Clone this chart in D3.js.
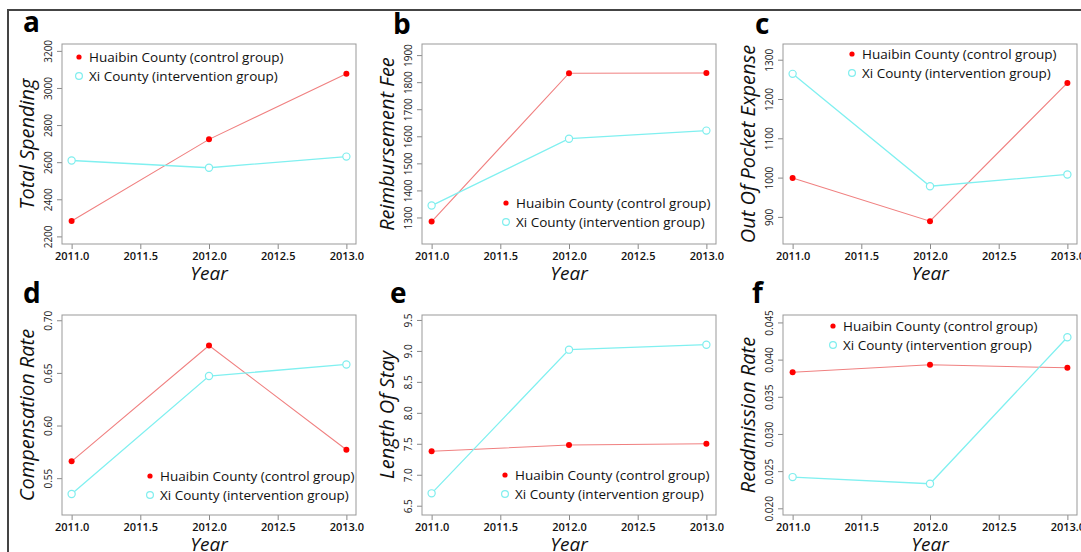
<!DOCTYPE html>
<html>
<head>
<meta charset="utf-8">
<script src="https://cdn.jsdelivr.net/npm/d3@7"></script>
<style>
  body { margin: 0; background: #fff; }
  svg { display: block; font-family: "Open Sans", sans-serif; }
</style>
</head>
<body>
<svg id="fig" width="1081" height="552"></svg>
<script>
// data
const years = [2011, 2012, 2013];
const seriesNames = ["Huaibin County (control group)", "Xi County (intervention group)"];
const panelLetters = ["a", "b", "c", "d", "e", "f"];
const panelTitles = ["Total Spending", "Reimbursement Fee", "Out Of Pocket Expense",
  "Compensation Rate", "Length Of Stay", "Readmission Rate"];

const huaibin = [
  [2283, 2723, 3076],
  [1285, 1833, 1834],
  [999, 889, 1241],
  [0.566, 0.676, 0.577],
  [7.38, 7.48, 7.50],
  [0.0383, 0.0393, 0.0389]
];
const xiCounty = [
  [2609, 2570, 2630],
  [1344, 1591, 1621],
  [1264, 978, 1008],
  [0.535, 0.647, 0.658],
  [6.70, 9.02, 9.10],
  [0.0242, 0.0233, 0.0430]
];

const yDomains = [
  [2159, 3237], [1202, 1941], [831, 1340],
  [0.515, 0.705], [6.35, 9.58], [0.0191, 0.0460]
];
const yTicks = [
  [2200, 2400, 2600, 2800, 3000, 3200],
  [1300, 1400, 1500, 1600, 1700, 1800, 1900],
  [900, 1000, 1100, 1200, 1300],
  [0.55, 0.60, 0.65, 0.70],
  [6.5, 7.0, 7.5, 8.0, 8.5, 9.0, 9.5],
  [0.020, 0.025, 0.030, 0.035, 0.040, 0.045]
];
const yFormats = ["d", "d", "d", ".2f", ".1f", ".3f"];
const xTicks = [2011, 2011.5, 2012, 2012.5, 2013];

// layout
const boxW = 294, boxH = 200;
const colX = [62, 422, 783];
const rowY = [44, 315];
const legendPos = [[17, 13], [84, 159], [69, 10], [88, 161], [83, 160], [50, 11]];
const letterPos = [[23, 32], [393, 34], [755, 34], [23, 303], [390, 303], [752, 303]];

const red = "#ff0000", redLine = "#f08080";
const cyan = "#7feeee", cyanLine = "#80f0f0";

const svg = d3.select("#fig");

// outer frame
svg.append("path")
  .attr("d", "M8,552V10H1081")
  .attr("fill", "none")
  .attr("stroke", "#444")
  .attr("stroke-width", 2);

for (let i = 0; i < 6; i++) {
  const x0 = colX[i % 3], y0 = rowY[Math.floor(i / 3)];
  const g = svg.append("g").attr("transform", `translate(${x0},${y0})`);

  const x = d3.scaleLinear().domain([2010.93, 2013.07]).range([0, boxW]);
  const y = d3.scaleLinear().domain(yDomains[i]).range([boxH, 0]);

  // x axis
  const xa = g.append("g")
    .attr("transform", `translate(0,${boxH})`)
    .call(d3.axisBottom(x).tickValues(xTicks).tickFormat(d3.format(".1f")).tickSize(5).tickPadding(3));
  xa.select(".domain").remove();
  xa.selectAll("line").attr("stroke", "#888");
  xa.selectAll("text")
    .attr("font-size", 11)
    .attr("font-weight", 600)
    .attr("fill", "#111")
    .attr("font-family", "Open Sans");

  // y axis with rotated labels
  const ya = g.append("g")
    .call(d3.axisLeft(y).tickValues(yTicks[i]).tickFormat(d3.format(yFormats[i])).tickSize(5));
  ya.select(".domain").remove();
  ya.selectAll("line").attr("stroke", "#888");
  ya.selectAll("text")
    .attr("transform", "rotate(-90)")
    .attr("x", 0)
    .attr("y", -10)
    .attr("dy", 0)
    .attr("text-anchor", "middle")
    .attr("font-size", 10)
    .attr("fill", "#222")
    .attr("font-family", "Open Sans");

  // plot box
  g.append("rect")
    .attr("width", boxW).attr("height", boxH)
    .attr("fill", "none")
    .attr("stroke", "#999")
    .attr("stroke-width", 1);

  const line = d3.line().x((d, j) => x(years[j])).y(d => y(d));

  g.append("path").datum(huaibin[i])
    .attr("d", line).attr("fill", "none")
    .attr("stroke", redLine).attr("stroke-width", 1.1);
  g.append("path").datum(xiCounty[i])
    .attr("d", line).attr("fill", "none")
    .attr("stroke", cyanLine).attr("stroke-width", 1.3);

  g.selectAll(".hb").data(huaibin[i]).enter().append("circle")
    .attr("cx", (d, j) => x(years[j])).attr("cy", d => y(d))
    .attr("r", 3).attr("fill", red);
  g.selectAll(".xi").data(xiCounty[i]).enter().append("circle")
    .attr("cx", (d, j) => x(years[j])).attr("cy", d => y(d))
    .attr("r", 3.6).attr("fill", "#fff")
    .attr("stroke", cyan).attr("stroke-width", 1.2);

  // legend
  const [lx, ly] = legendPos[i];
  const lg = g.append("g").attr("transform", `translate(${lx},${ly})`);
  lg.append("circle").attr("cx", 0).attr("cy", 0).attr("r", 2.6).attr("fill", red);
  lg.append("circle").attr("cx", 0).attr("cy", 19).attr("r", 3.4)
    .attr("fill", "#fff").attr("stroke", cyan).attr("stroke-width", 1.2);
  lg.selectAll("text").data(seriesNames).enter().append("text")
    .attr("x", 10).attr("y", (d, j) => j * 19)
    .attr("dy", "0.36em")
    .attr("font-size", 13.5)
    .attr("fill", "#111")
    .text(d => d);

  // axis titles
  g.append("text")
    .attr("transform", `translate(${-28},${boxH / 2}) rotate(-90)`)
    .attr("text-anchor", "middle")
    .attr("font-size", 20)
    .attr("font-style", "italic")
    .attr("fill", "#111")
    .text(panelTitles[i]);
  g.append("text")
    .attr("x", boxW / 2).attr("y", boxH + 36)
    .attr("text-anchor", "middle")
    .attr("font-size", 19)
    .attr("font-style", "italic")
    .attr("fill", "#111")
    .text("Year");

  // panel letter
  svg.append("text")
    .attr("x", letterPos[i][0]).attr("y", letterPos[i][1])
    .attr("font-size", 28)
    .attr("font-weight", 700)
    .attr("fill", "#000")
    .text(panelLetters[i]);
}
</script>
</body>
</html>
